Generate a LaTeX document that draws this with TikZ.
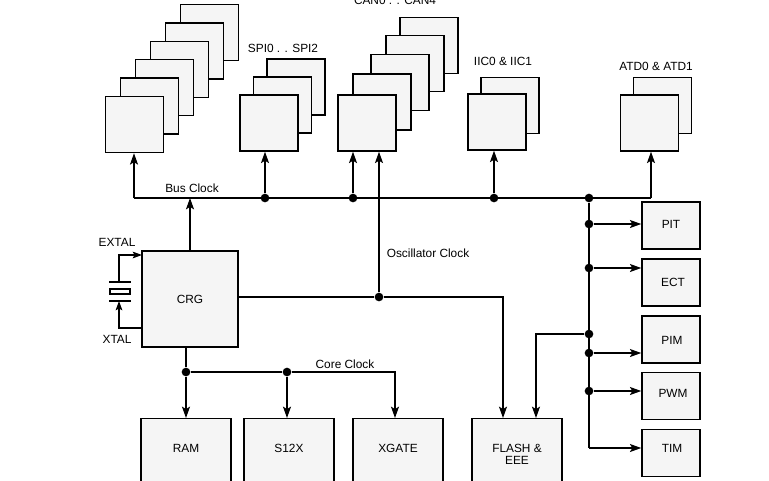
\documentclass[tikz,border=0pt]{standalone}
\usepackage{fontspec}
\setmainfont{Liberation Sans}
\usetikzlibrary{arrows.meta}

\begin{document}
\begin{tikzpicture}[x=0.75pt,y=-0.75pt]
    \tikzstyle{bloc}=[draw,fill=black!4,line width=1.1pt,inner sep=0pt,minimum width=43.5pt,minimum height=42pt,font=\fontsize{8.9}{10}\selectfont]
    \tikzstyle{bas}=[bloc,minimum width=67.5pt,minimum height=60pt,anchor=north]
    \tikzstyle{fleche}=[line width=1.1pt,-{Stealth[length=8.5pt,width=6pt,inset=1.8pt]}]
    \tikzstyle{fin}=[line width=0.8pt,-{Stealth[length=7pt,width=5pt,inset=1.4pt]}]
    \tikzstyle{trait}=[line width=1.1pt]
    \tikzstyle{point}=[circle,fill,inner sep=0pt,minimum size=6.5pt]
    \tikzstyle{texte}=[font=\fontsize{8.9}{9}\selectfont,inner sep=0pt]
    \useasboundingbox (0,0) rectangle (769,480);
    \node[bloc] (a6) at (209.5,32.5) {};
    \node[bloc] (a5) at (194.5,50.9) {};
    \node[bloc] (a4) at (179.5,69.3) {};
    \node[bloc] (a3) at (164.5,87.7) {};
    \node[bloc] (a2) at (149.5,106.1) {};
    \node[bloc] (a1) at (134.5,124.5) {};
    \node[bloc] (s3) at (296,87) {};
    \node[bloc] (s2) at (282.5,105) {};
    \node[bloc] (s1) at (269,123) {};
    \node[bloc] (c5) at (429,45.5) {};
    \node[bloc] (c4) at (415,63.5) {};
    \node[bloc] (c3) at (400,82.5) {};
    \node[bloc] (c2) at (382,102) {};
    \node[bloc] (c1) at (367,123) {};
    \node[bloc] (i2) at (510,105.5) {};
    \node[bloc] (i1) at (497,122) {};
    \node[bloc] (t2) at (662.5,105.5) {};
    \node[bloc] (t1) at (649.5,123) {};
    \node[texte] (lspi) at (283,48) {SPI0 . . SPI2};
    \node[texte] (lcan) at (395,0.5) {CAN0 . . CAN4};
    \node[texte] (liic) at (503,61) {IIC0 \& IIC1};
    \node[texte] (latd) at (656,66) {ATD0 \& ATD1};
    \coordinate (g) at (134,198);
    \coordinate (d) at (651,198);
    \draw[trait] (g) -- (d);
    \node[point] (p1) at (265,198) {};
    \node[point] (p2) at (353,198) {};
    \node[point] (p3) at (494,198) {};
    \node[point] (p4) at (589,198) {};
    \draw[fleche] (g) -- (g |- a1.south);
    \draw[fleche] (p1) -- (p1 |- s1.south);
    \draw[fleche] (p2) -- (p2 |- c1.south);
    \draw[fleche] (p3) -- (p3 |- i1.south);
    \draw[fleche] (d) -- (d |- t1.south);
    \node[texte] (lbus) at (192,188) {Bus Clock};
    \node[bloc,minimum width=72pt,minimum height=72pt] (crg) at (190,299) {CRG};
    \draw[fleche] (crg.north) -- (crg.north |- g);
    \node[draw,line width=0.8pt,inner sep=0pt,minimum width=15pt,minimum height=3.75pt] (quartz) at (120,291.5) {};
    \coordinate (ph) at (119,282);
    \coordinate (pb) at (119,301);
    \draw[line width=0.8pt] ([xshift=-7.5pt]ph) -- ([xshift=9pt]ph);
    \draw[line width=0.8pt] ([xshift=-7.5pt]pb) -- ([xshift=9pt]pb);
    \coordinate (ex) at (142,255);
    \coordinate (xt) at (142,328);
    \draw[fin] (ph) |- (ex);
    \draw[fin] (xt) -| (pb);
    \node[texte] (lext) at (117,242) {EXTAL};
    \node[texte] (lxt) at (117,339) {XTAL};
    \node[point] (osc) at (379,297) {};
    \draw[trait] (crg.east |- osc) -- (osc);
    \draw[fleche] (osc) -- (osc |- c1.south);
    \node[texte] (losc) at (428,253) {Oscillator Clock};
    \node[bloc,minimum height=35.25pt] (pit) at (671,225.5) {};
    \node[bloc,minimum height=35.25pt] (ect) at (671,282.5) {};
    \node[bloc,minimum height=35.25pt] (pim) at (671,339.5) {};
    \node[bloc,minimum height=35.25pt] (pwm) at (671,396) {};
    \node[bloc,minimum height=35.25pt] (tim) at (671,453) {};
    \node[texte] (tpit) at (671,224) {PIT};
    \node[texte] (tect) at (673,282) {ECT};
    \node[texte] (tpim) at (672,340) {PIM};
    \node[texte] (tpwm) at (673,393) {PWM};
    \node[texte] (ttim) at (672,448) {TIM};
    \coordinate (bt) at (589,448);
    \draw[trait] (p4) -- (bt);
    \node[point] (q1) at (589,224) {};
    \node[point] (q2) at (589,268) {};
    \node[point] (q6) at (589,334) {};
    \node[point] (q3) at (589,353) {};
    \node[point] (q4) at (589,391) {};
    \draw[fleche] (q1) -- (q1 -| pit.west);
    \draw[fleche] (q2) -- (q2 -| ect.west);
    \draw[fleche] (q3) -- (q3 -| pim.west);
    \draw[fleche] (q4) -- (q4 -| pwm.west);
    \draw[fleche] (bt) -- (bt -| tim.west);
    \node[bas] (ram) at (186,418) {};
    \node[bas] (s12x) at (289,418) {};
    \node[bas] (xgate) at (398,418) {};
    \node[bas] (flash) at (517,418) {};
    \node[texte] (tram) at (186,448) {RAM};
    \node[texte] (ts12x) at (289,448) {S12X};
    \node[texte] (txgate) at (398,448) {XGATE};
    \node[texte,align=center] (tflash) at (517,454) {FLASH \&\\EEE};
    \draw[fleche] (osc) -| ([xshift=-10.5pt]flash.north);
    \draw[fleche] (q6) -| ([xshift=14.25pt]flash.north);
    \node[point] (k0) at (186,372) {};
    \node[point] (k1) at (287,372) {};
    \draw[trait] (crg.south -| k0) -- (k0);
    \draw[trait] (k0) -- (k1);
    \draw[fleche] (k0) -- (k0 |- ram.north);
    \draw[fleche] (k1) -- (k1 |- s12x.north);
    \draw[fleche] (k1) -| ([xshift=-2.25pt]xgate.north);
    \node[texte] (lcore) at (345,364) {Core Clock};
\end{tikzpicture}
\end{document}
